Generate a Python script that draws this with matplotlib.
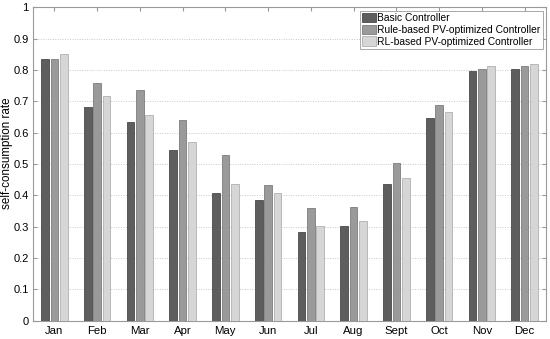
import matplotlib
matplotlib.use("Agg")
import matplotlib.pyplot as plt
import numpy as np

months = ["Jan", "Feb", "Mar", "Apr", "May", "Jun", "Jul", "Aug", "Sept", "Oct", "Nov", "Dec"]
basic = [0.835, 0.681, 0.635, 0.546, 0.408, 0.384, 0.284, 0.301, 0.435, 0.646, 0.798, 0.802]
rule_based = [0.835, 0.759, 0.738, 0.640, 0.528, 0.432, 0.359, 0.363, 0.504, 0.689, 0.805, 0.813]
rl_based = [0.850, 0.716, 0.656, 0.572, 0.436, 0.409, 0.303, 0.318, 0.455, 0.667, 0.812, 0.818]
series_names = ["Basic Controller", "Rule-based PV-optimized Controller", "RL-based PV-optimized Controller"]
yticks = [0, 0.1, 0.2, 0.3, 0.4, 0.5, 0.6, 0.7, 0.8, 0.9, 1]

plt.rcParams['font.family'] = ['Liberation Sans', 'DejaVu Sans']
fig = plt.figure(figsize=(5.5, 3.39), dpi=100)
ax = fig.add_axes([0.06, 0.054, 0.9327, 0.924])

x = np.arange(len(months))
colors = ["#5e5e5e", "#9a9a9a", "#d6d6d6"]
edges = ["#4a4a4a", "#7d7d7d", "#b0b0b0"]
offsets = [-0.22, 0.0, 0.22]
for vals, c, ec, off, name in zip([basic, rule_based, rl_based], colors, edges, offsets, series_names):
    ax.bar(x + off, vals, width=0.18, color=c, edgecolor=ec, linewidth=0.6, label=name, zorder=3)

ax.set_xlim(-0.5, 11.5)
ax.set_ylim(0, 1)
ax.set_xticks(x)
ax.set_xticklabels(months, fontsize=8.2)
ax.set_yticks(yticks)
ax.set_yticklabels([f"{v:g}" for v in yticks], fontsize=8.0)
fig.text(0.0125, 0.548, "self-consumption rate", fontsize=8.4, rotation=90, ha='center', va='center')
ax.tick_params(axis='both', direction='in', length=3, color='#999999', top=True, right=True, pad=3.5)
ax.tick_params(axis='y', pad=3)
ax.yaxis.grid(True, linestyle=(0, (1, 1.5)), color='#c8c8c8', linewidth=0.7, zorder=0)
for s in ax.spines.values():
    s.set_color('#9a9a9a')
    s.set_linewidth(0.8)

leg = ax.legend(loc='upper right', fontsize=7.4, frameon=True, fancybox=False,
                edgecolor='#9a9a9a', handlelength=1.3, handleheight=1.0, handletextpad=0.15,
                borderpad=0.25, labelspacing=0.15, borderaxespad=0.3, framealpha=1)
leg.get_frame().set_linewidth(0.6)

fig.savefig("out.png", dpi=100)
